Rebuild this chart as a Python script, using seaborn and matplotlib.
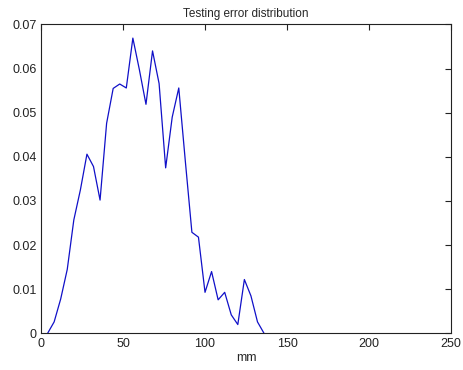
import numpy as np
import pandas as pd
import matplotlib
matplotlib.use("Agg")
import matplotlib.pyplot as plt
import seaborn as sns

# error bins (mm) and their relative frequency
error_mm = [4, 8, 12, 16, 20, 24, 28, 32, 36, 40, 44, 48, 52, 56, 60, 64, 68,
            72, 76, 80, 84, 88, 92, 96, 100, 104, 108, 112, 116, 120, 124, 128,
            132, 136]
freq = [0.0, 0.0026, 0.0078, 0.0145, 0.0257, 0.0325, 0.0406, 0.0378, 0.0302,
        0.0476, 0.0555, 0.0565, 0.0556, 0.0669, 0.0597, 0.0519, 0.0640, 0.0566,
        0.0375, 0.0490, 0.0556, 0.0390, 0.0229, 0.0218, 0.0093, 0.0140, 0.0076,
        0.0093, 0.0042, 0.0020, 0.0122, 0.0085, 0.0026, 0.0]

df = pd.DataFrame({"mm": error_mm, "freq": freq})

sns.set_style("white")
plt.rcParams["font.family"] = ["Liberation Sans", "DejaVu Sans"]

fig = plt.figure(figsize = (4.64, 3.70), dpi = 100)
ax = fig.add_axes([0.0884, 0.099, 0.8836, 0.835])

sns.lineplot(data = df, x = "mm", y = "freq", color = "#1010c8", linewidth = 0.9, ax = ax)

ax.set_xlim(0, 250)
ax.set_ylim(0, 0.07)
ax.set_xticks([0, 50, 100, 150, 200, 250])
ax.set_yticks(np.arange(0, 0.071, 0.01))
ax.set_yticklabels(["0", "0.01", "0.02", "0.03", "0.04", "0.05", "0.06", "0.07"])
ax.tick_params(direction = "in", top = True, right = True, length = 4,
               width = 0.8, labelsize = 9, colors = "#222222", pad = 3)
for s in ax.spines.values():
    s.set_visible(True)
    s.set_color("#222222")
    s.set_linewidth(0.8)

ax.set_xlabel("mm", fontsize = 9, labelpad = 2)
ax.set_ylabel("")
ax.set_title("Testing error distribution", fontsize = 8.5, pad = 5)

fig.savefig("out.png", dpi = 100)
